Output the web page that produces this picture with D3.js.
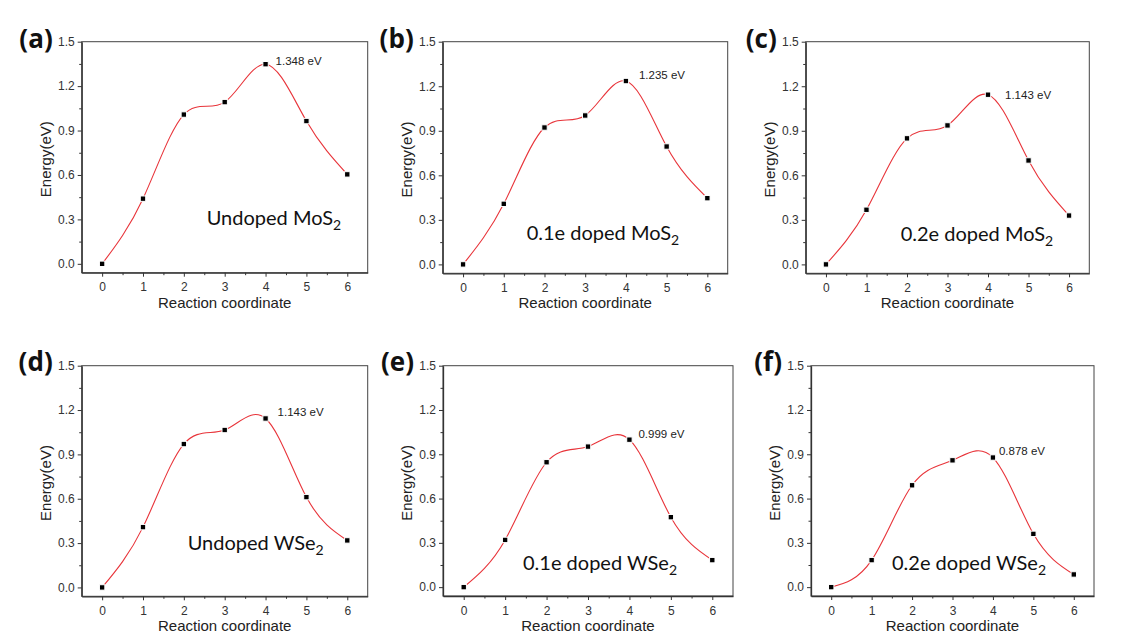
<!DOCTYPE html>
<html>
<head>
<meta charset="utf-8">
<script src="https://cdn.jsdelivr.net/npm/d3@7"></script>
<style>
  body { margin: 0; background: #fff; }
  svg { display: block; }
</style>
</head>
<body>
<div id="chart"></div>
<script>
// reaction coordinate (images along the path)
var reactionCoordinate = [0, 1, 2, 3, 4, 5, 6];

// energies in eV
var undopedMoS2 = [0, 0.440, 1.008, 1.092, 1.348, 0.964, 0.604];
var doped01MoS2 = [0, 0.408, 0.922, 1.003, 1.235, 0.794, 0.446];
var doped02MoS2 = [0, 0.368, 0.849, 0.936, 1.143, 0.700, 0.329];
var undopedWSe2 = [0, 0.408, 0.970, 1.065, 1.143, 0.611, 0.318];
var doped01WSe2 = [0, 0.320, 0.846, 0.952, 0.999, 0.474, 0.183];
var doped02WSe2 = [0, 0.183, 0.690, 0.859, 0.878, 0.361, 0.086];

var panelLetters = ["(a)", "(b)", "(c)", "(d)", "(e)", "(f)"];
var systemNames = ["Undoped MoS", "0.1e doped MoS", "0.2e doped MoS",
                   "Undoped WSe", "0.1e doped WSe", "0.2e doped WSe"];
var barrierLabels = ["1.348 eV", "1.235 eV", "1.143 eV", "1.143 eV", "0.999 eV", "0.878 eV"];

var yTicks = [0, 0.3, 0.6, 0.9, 1.2, 1.5];
var yMinorTicks = [0.15, 0.45, 0.75, 1.05, 1.35];
var xMinorTicks = [0.5, 1.5, 2.5, 3.5, 4.5, 5.5];

var seriesList = [undopedMoS2, doped01MoS2, doped02MoS2, undopedWSe2, doped01WSe2, doped02WSe2];

// frame of every panel on the page, plus where its texts sit
var layout = [
  {left: 81.7,  top: 41.7,  right: 367.7,  bottom: 272.7, nameX: 125, nameY: 183, annDx: 10, annDy: 1},
  {left: 442.7, top: 41.7,  right: 727.7,  bottom: 273.3, nameX: 84,  nameY: 198, annDx: 13, annDy: -2},
  {left: 805.7, top: 41.7,  right: 1089.3, bottom: 273.3, nameX: 95,  nameY: 199, annDx: 17, annDy: 4},
  {left: 81.7,  top: 365.7, right: 367.7,  bottom: 596.3, nameX: 106, nameY: 184, annDx: 12, annDy: -2},
  {left: 443,   top: 365.7, right: 733,    bottom: 596,   nameX: 80,  nameY: 204, annDx: 9,  annDy: -2},
  {left: 811,   top: 365.7, right: 1094,   bottom: 596,   nameX: 81,  nameY: 204, annDx: 6,  annDy: -3}
];

var tickFont = "'Liberation Sans', Arial, sans-serif";

var svg = d3.select("#chart").append("svg")
    .attr("width", 1133)
    .attr("height", 640);

svg.append("rect").attr("width", 1133).attr("height", 640).attr("fill", "#fff");

seriesList.forEach(function (values, i) {
    var box = layout[i];
    var w = box.right - box.left;
    var h = box.bottom - box.top;

    var g = svg.append("g")
        .attr("transform", `translate(${box.left},${box.top})`);

    var x = d3.scaleLinear().domain([-0.5, 6.5]).range([0, w]);
    var y = d3.scaleLinear().domain([-0.06, 1.5]).range([h, 0]);

    // frame
    g.append("rect")
        .attr("width", w).attr("height", h)
        .attr("fill", "none")
        .attr("stroke", "#444")
        .attr("stroke-width", 1);

    // minor ticks
    g.append("g")
        .attr("transform", `translate(0,${h})`)
        .call(d3.axisBottom(x).tickValues(xMinorTicks).tickSize(2.5).tickSizeOuter(0).tickFormat(""))
        .call(a => a.select(".domain").remove())
        .call(a => a.selectAll("line").attr("stroke", "#333"));
    g.append("g")
        .call(d3.axisLeft(y).tickValues(yMinorTicks).tickSize(2.5).tickSizeOuter(0).tickFormat(""))
        .call(a => a.select(".domain").remove())
        .call(a => a.selectAll("line").attr("stroke", "#333"));

    // major axes
    g.append("g")
        .attr("transform", `translate(0,${h})`)
        .call(d3.axisBottom(x).tickValues(reactionCoordinate).tickSize(4).tickSizeOuter(0).tickPadding(6).tickFormat(d3.format("d")))
        .call(a => a.select(".domain").attr("stroke", "#333").attr("stroke-width", 1.3))
        .call(a => a.selectAll("line").attr("stroke", "#333"))
        .call(a => a.selectAll("text").attr("fill", "#333").attr("font-size", "12px").attr("font-family", tickFont));

    g.append("g")
        .call(d3.axisLeft(y).tickValues(yTicks).tickSize(4).tickSizeOuter(0).tickPadding(3).tickFormat(d3.format(".1f")))
        .call(a => a.select(".domain").attr("stroke", "#333").attr("stroke-width", 1.3))
        .call(a => a.selectAll("line").attr("stroke", "#333"))
        .call(a => a.selectAll("text").attr("fill", "#333").attr("font-size", "12px").attr("font-family", tickFont));

    // axis titles
    g.append("text")
        .attr("x", w / 2)
        .attr("y", h + 35)
        .attr("text-anchor", "middle")
        .attr("font-family", tickFont)
        .attr("font-size", "15px")
        .attr("fill", "#222")
        .text("Reaction coordinate");

    g.append("text")
        .attr("transform", `translate(-31,${h / 2 + 2}) rotate(-90)`)
        .attr("text-anchor", "middle")
        .attr("font-family", tickFont)
        .attr("font-size", "15px")
        .attr("fill", "#222")
        .text("Energy(eV)");

    // panel letter
    g.append("text")
        .attr("x", -29)
        .attr("y", i < 3 ? 6 : 5)
        .attr("text-anchor", "end")
        .attr("font-family", "'Open Sans', sans-serif")
        .attr("font-weight", "bold")
        .attr("font-size", "26px")
        .attr("fill", "#111")
        .text(panelLetters[i]);

    // smooth curve through the points
    var pts = reactionCoordinate.map((c, k) => [c, values[k]]);
    var line = d3.line()
        .x(d => x(d[0]))
        .y(d => y(d[1]))
        .curve(d3.curveNatural);

    g.append("path")
        .datum(pts)
        .attr("d", line)
        .attr("fill", "none")
        .attr("stroke", "#e8343a")
        .attr("stroke-width", 1.1);

    g.selectAll("rect.pt")
        .data(pts)
        .join("rect")
        .attr("class", "pt")
        .attr("x", d => x(d[0]) - 2.7)
        .attr("y", d => y(d[1]) - 2.7)
        .attr("width", 5.4)
        .attr("height", 5.4)
        .attr("fill", "#000")
        .attr("stroke", "#fff")
        .attr("stroke-width", 1);

    // barrier annotation next to the transition state (point 4)
    g.append("text")
        .attr("x", x(reactionCoordinate[4]) + box.annDx)
        .attr("y", y(values[4]) + box.annDy)
        .attr("font-family", tickFont)
        .attr("font-size", "11.5px")
        .attr("fill", "#222")
        .text(barrierLabels[i]);

    // system name with subscript 2
    var name = g.append("text")
        .attr("x", box.nameX)
        .attr("y", box.nameY)
        .attr("font-family", "Lato, 'Open Sans', sans-serif")
        .attr("font-size", "20px")
        .attr("fill", "#111");
    name.append("tspan").text(systemNames[i]);
    name.append("tspan")
        .attr("font-size", "14px")
        .attr("dy", 5)
        .text("2");
});
</script>
</body>
</html>
